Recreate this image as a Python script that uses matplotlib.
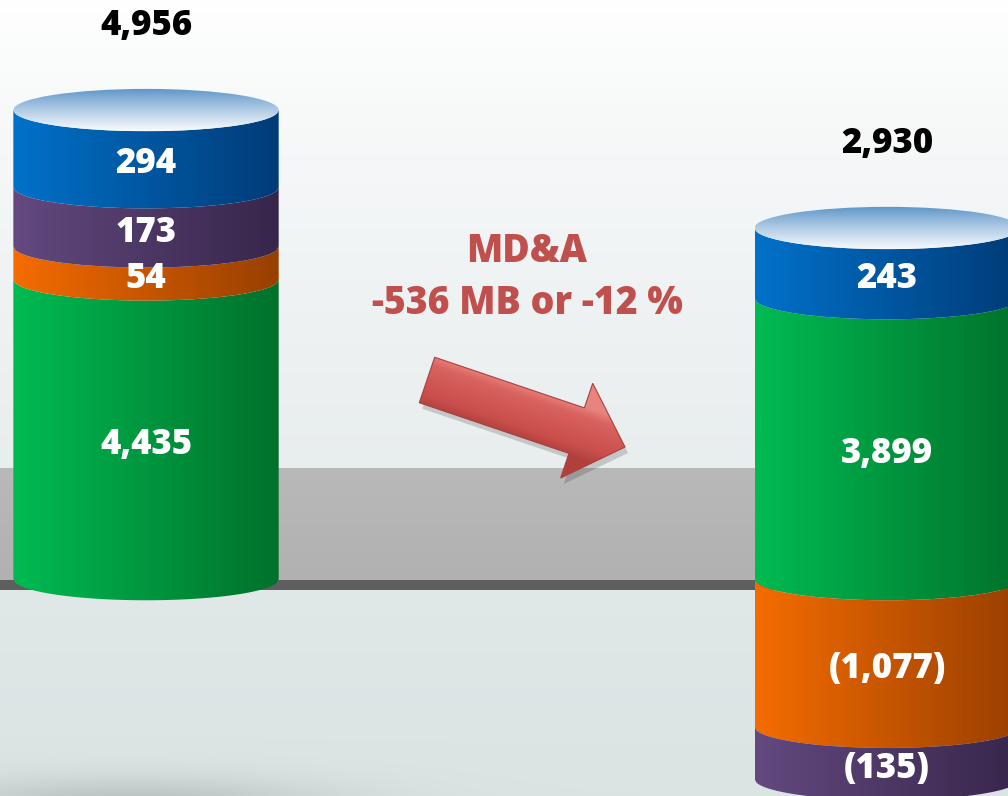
import numpy as np
import matplotlib.pyplot as plt
from matplotlib.patches import Polygon, Ellipse
from matplotlib.colors import to_rgb

plt.rcParams['font.family'] = ['Open Sans', 'DejaVu Sans']

# values of the two cylinders (left, right), stacked bottom up in this order
green = [4435, 3899]
orange = [54, -1077]
purple = [173, -135]
blue = [294, 243]

series = [green, orange, purple, blue]
shades = [('#00bb52', '#00712b'),
          ('#f56c00', '#983f00'),
          ('#63497f', '#37264b'),
          ('#0072ca', '#003b77')]

note_title = 'MD&A'
note_text = '-536 MB or -12 %'

W, H = 1008, 796
fig = plt.figure(figsize=(W / 100, H / 100), dpi=100)
ax = fig.add_axes([0, 0, 1, 1])
XLIM, YLIM = (-0.197, 1.163), (-48.2, 128.7)
ax.set_xlim(*XLIM)
ax.set_ylim(*YLIM)
ax.axis('off')

xs = np.arange(len(green))
half_w = 0.179   # half width of a cylinder
b = 4.7          # half height of the ellipses
WEIGHT = 'heavy'


def disp(v):
    # the original is not drawn to scale, square root heights come close
    return np.sign(v) * np.sqrt(abs(v))


def to_data(px, py):
    return ax.transData.inverted().transform((px, H - py))


def lerp(c1, c2, t):
    c1, c2 = np.array(to_rgb(c1)), np.array(to_rgb(c2))
    t = np.asarray(t)[..., None]
    return c1 * (1 - t) + c2 * t


def fmt(v):
    s = f'{abs(v):,}'
    return f'({s})' if v < 0 else s


# background: soft top, grey band, floor line, light floor
base_px = H - ax.transData.transform((0, 0))[1]
band_top = base_px - 112
rows = np.arange(H, dtype=float)
col = np.zeros((H, 3))
m = rows < band_top
col[m] = lerp('#ffffff', '#e8edee', (rows[m] / band_top) ** 0.8)
m = (rows >= band_top) & (rows < base_px)
col[m] = lerp('#b9b9b9', '#b1b1b1', (rows[m] - band_top) / 112)
m = (rows >= base_px) & (rows < base_px + 10)
col[m] = to_rgb('#5e5e5e')
m = rows >= base_px + 10
col[m] = lerp('#e0e8e8', '#dae4e3', (rows[m] - base_px) / (H - base_px))
bg = np.repeat(col[:, None, :], W, axis=1)
gx, gy = np.meshgrid(np.arange(W), rows)
sh = 0.45 * np.exp(-((gx - 130) ** 2 / (2 * 140 ** 2) + (gy - 806) ** 2 / (2 * 20 ** 2)))
bg = bg * (1 - sh[..., None]) + np.array(to_rgb('#8e9594')) * sh[..., None]
ax.imshow(bg, extent=(*XLIM, *YLIM), aspect='auto', origin='upper', zorder=0)


def band(x, y0, y1, c1, c2):
    t = np.linspace(-1, 1, 120)
    arc = -b * np.sqrt(1 - t ** 2)
    xx = x + half_w * t
    pts = np.vstack([np.column_stack([xx, y0 + arc]),
                     np.column_stack([xx[::-1], y1 + arc[::-1]])])
    poly = Polygon(pts, closed=True, facecolor='none', edgecolor='none')
    ax.add_patch(poly)
    img = lerp(c1, c2, np.linspace(0, 1, 256))[None, :, :]
    im = ax.imshow(img, extent=(x - half_w, x + half_w, y0 - b - 1, y1 + 1),
                   aspect='auto', zorder=2, interpolation='bilinear')
    im.set_clip_path(poly)


pos = np.zeros(len(xs))
neg = np.zeros(len(xs))
for vals, (c1, c2) in zip(series, shades):
    for i, v in enumerate(vals):
        h = disp(v)
        if h >= 0:
            y0, y1 = pos[i], pos[i] + h
            pos[i] = y1
        else:
            y0, y1 = neg[i] + h, neg[i]
            neg[i] = y0
        band(xs[i], y0, y1, c1, c2)
        ax.text(xs[i], (y0 + y1) / 2 - 0.75 * b, fmt(v), color='white',
                fontsize=25, fontweight=WEIGHT, ha='center', va='center', zorder=5)

# top caps and totals
totals = [sum(s[i] for s in series) for i in range(len(xs))]
for i, x in enumerate(xs):
    top = pos[i]
    cap = Ellipse((x, top), 2 * half_w, 2 * b, facecolor='none', edgecolor='none')
    ax.add_patch(cap)
    tt = np.linspace(0, 1, 128) ** 0.9
    img = lerp('#5b93c8', '#f7fafd', tt)[:, None, :]
    im = ax.imshow(img, extent=(x - half_w, x + half_w, top - b, top + b),
                   aspect='auto', origin='upper', zorder=3, interpolation='bilinear')
    im.set_clip_path(cap)
    ax.annotate(f'{totals[i]:,}', (x, top + b), xytext=(0, 45),
                textcoords='offset points', ha='center', va='center',
                fontsize=25, fontweight=WEIGHT, color='black', zorder=5)

# arrow between the cylinders (pixel layout)
T = np.array([427.0, 380.0])
P = np.array([625.0, 447.0])
u = (P - T) / np.linalg.norm(P - T)
n = np.array([u[1], -u[0]])
hw, hh, hl = 24, 50, 51
Hb = P - u * hl
arrow_px = np.array([T + n * hw, Hb + n * hw, Hb + n * hh, P,
                     Hb - n * hh, Hb - n * hw, T - n * hw])
shadow = Polygon([to_data(*p) for p in arrow_px + [3, 6]], closed=True,
                 facecolor='black', alpha=0.16, edgecolor='none', zorder=3)
ax.add_patch(shadow)
arrow = Polygon([to_data(*p) for p in arrow_px], closed=True, facecolor='none',
                edgecolor='#a9403d', lw=0.8, zorder=4)
ax.add_patch(arrow)
x0, y0 = arrow_px.min(axis=0) - 2
x1, y1 = arrow_px.max(axis=0) + 2
ax_, ay_ = np.meshgrid(np.arange(x0, x1), np.arange(y0, y1))
s = (ax_ - T[0]) * n[0] + (ay_ - T[1]) * n[1]
agrad = np.stack([np.interp(s, [-26, -14, 0, 16, 26],
                            [c[k] for c in map(to_rgb, ['#b13f3c', '#c94f4c', '#d05754',
                                                        '#d9635f', '#e8847f'])])
                  for k in range(3)], axis=-1)
dl, db = to_data(x0, y1)
dr, dt = to_data(x1, y0)
im = ax.imshow(agrad, extent=(dl, dr, db, dt), aspect='auto', origin='upper',
               zorder=3.5, interpolation='bilinear')
im.set_clip_path(arrow)

fig.text(527 / W, 1 - 251 / H, note_title, color='#c0504d', fontsize=27,
         fontweight=WEIGHT, ha='center', va='center')
fig.text(527 / W, 1 - 303 / H, note_text, color='#c0504d', fontsize=27,
         fontweight=WEIGHT, ha='center', va='center')

ax.set_xlim(*XLIM)
ax.set_ylim(*YLIM)
fig.savefig('out.png', dpi=100)
